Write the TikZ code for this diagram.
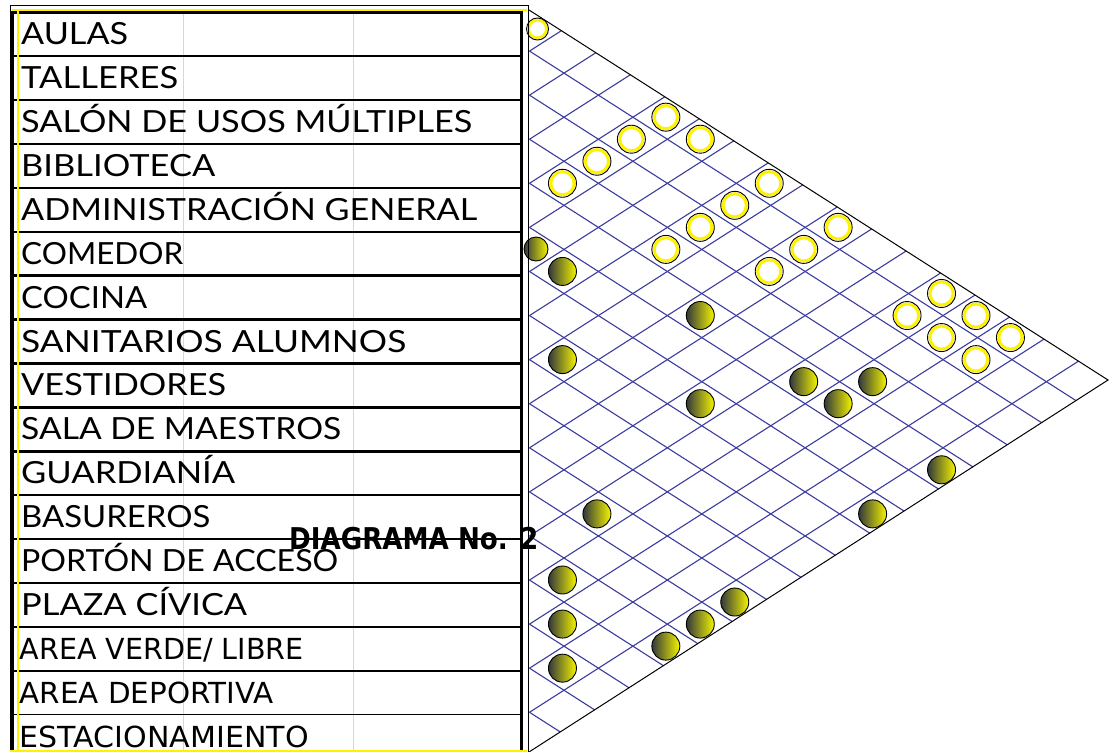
\documentclass[tikz,border=0pt]{standalone}
\usepackage{fontspec}
\usepackage{graphicx}
\setmainfont{Lato}
\newfontfamily\tahomafont{DejaVu Sans}
\newcommand\fitw[2]{\resizebox{#1pt}{\height}{#2}}
\definecolor{gridblue}{RGB}{60,60,160}
\definecolor{balldark}{RGB}{50,56,60}
\definecolor{ballyellow}{RGB}{245,245,0}
\definecolor{sheetgray}{RGB}{215,215,215}
\tikzset{
  lbl/.style={anchor=base west, inner sep=0pt, font=\fontsize{30.5}{30}\selectfont},
  lblb/.style={anchor=base west, inner sep=0pt, font=\tahomafont\fontsize{29}{29}\selectfont},
  rowline/.style={black, line width=2.5pt},
  rowthin/.style={black, line width=1.4pt},
  gridline/.style={gridblue, line width=1.1pt},
  edgeline/.style={black, line width=1pt},
  hollowball/.style={circle, inner sep=0pt, minimum size=28pt, fill=white, draw=black, line width=0.9pt,
    path picture={\draw[yellow, line width=3pt] (path picture bounding box.center) circle (11.6pt);}},
  fullball/.style={circle, inner sep=0pt, minimum size=28pt, draw=black, line width=0.9pt,
    left color=balldark, right color=ballyellow},
}
\begin{document}
\begin{tikzpicture}[x=1pt,y=-1pt]
\useasboundingbox (0,0) rectangle (1114,752);
\fill[white] (0,0) rectangle (1114,752);
% spreadsheet gridlines
\draw[sheetgray, line width=0.9pt] (183,12) -- (183,751);
\draw[sheetgray, line width=0.9pt] (353,12) -- (353,751);
% row separators
\foreach \k in {0,...,11,13,15}{
  \draw[rowline] (12.5,{12.3+43.9*\k}) -- (521.5,{12.3+43.9*\k});
}
\foreach \k in {12,14,16}{
  \draw[rowthin] (12.5,{12.3+43.9*\k}) -- (521.5,{12.3+43.9*\k});
}
% labels
\node[lbl] (r0)  at (21,44.75)  {\fitw{107}{AULAS}};
\node[lbl] (r1)  at (21,88.65)  {\fitw{157}{TALLERES}};
\node[lbl] (r2)  at (21,132.55) {\fitw{451}{SALÓN DE USOS MÚLTIPLES}};
\node[lbl] (r3)  at (21,176.45) {\fitw{194}{BIBLIOTECA}};
\node[lbl] (r4)  at (21,220.35) {\fitw{456}{ADMINISTRACIÓN GENERAL}};
\node[lbl] (r5)  at (21,264.25) {\fitw{162}{COMEDOR}};
\node[lbl] (r6)  at (21,308.15) {\fitw{126}{COCINA}};
\node[lbl] (r7)  at (21,352.05) {\fitw{385}{SANITARIOS ALUMNOS}};
\node[lbl] (r8)  at (21,395.95) {\fitw{205}{VESTIDORES}};
\node[lbl] (r9)  at (21,439.85) {\fitw{320}{SALA DE MAESTROS}};
\node[lbl] (r10) at (21,483.75) {\fitw{214}{GUARDIANÍA}};
\node[lbl] (r11) at (21,527.65) {\fitw{189}{BASUREROS}};
\node[lbl] (r12) at (21,571.55) {\fitw{317}{PORTÓN DE ACCESO}};
\node[lbl] (r13) at (21,615.45) {\fitw{226}{PLAZA CÍVICA}};
\node[lblb] (r14) at (19.5,659.35) {\fitw{284}{AREA VERDE/ LIBRE}};
\node[lblb] (r15) at (19.5,703.25) {\fitw{254}{AREA DEPORTIVA}};
\node[lblb] (r16) at (19.5,747.15) {\fitw{289}{ESTACIONAMIENTO}};
% triangle grid
\begin{scope}
  \clip (529,10) -- (1108,380) -- (529,752) -- cycle;
  \foreach \k in {1,...,16}{
    \draw[gridline] (529.5,{7+44.08*\k}) -- ++(600,383.76);
    \draw[gridline] (529.5,{7+44.08*\k}) -- ++(600,-383.76);
  }
\end{scope}
\draw[edgeline] (529,10) -- (1108,380) -- (529,752);
% edge balls
\node[hollowball, minimum size=22pt, path picture={\draw[yellow, line width=2.6pt] (path picture bounding box.center) circle (8.8pt);}] (y-0-0) at (537.5,29) {};
\node[fullball, minimum size=24pt] (d-5-5) at (536,249) {};
% hollow balls
\foreach \i/\j in {0/4,1/4,0/5,2/4,3/4,0/7,1/7,2/7,0/9,3/7,1/9,2/9,0/12,1/12,0/13,1/13,0/14,1/14}{
  \node[hollowball] (y-\i-\j) at ({528+34.46*(\j-\i)},{29+22.04*(\i+\j)}) {};
}
% full balls
\foreach \i/\j in {5/6,4/9,7/8,4/12,3/13,4/13,6/11,4/16,10/12,6/16,12/13,10/16,13/14,11/16,12/16,14/15}{
  \node[fullball] (d-\i-\j) at ({528+34.46*(\j-\i)},{29+22.04*(\i+\j)}) {};
}
% table frame
\draw[black, line width=0.9pt] (10,5.7) -- (528.7,5.7);
\draw[black, line width=0.9pt] (10,5.7) -- (10,752);
\draw[black, line width=0.9pt] (528.7,5.7) -- (528.7,752);
\draw[black, line width=2.5pt] (12.5,11) -- (12.5,752);
\draw[black, line width=2.5pt] (521.5,11) -- (521.5,752);
\draw[yellow, line width=1.6pt] (12,10.2) -- (527,10.2);
\draw[yellow, line width=1.6pt] (17.8,11) -- (17.8,751);
\draw[yellow, line width=1.8pt] (10,750.8) -- (527,750.8);
% title
\node[anchor=base west, inner sep=0pt, font=\tahomafont\bfseries\fontsize{30}{30}\selectfont] (title) at (289,549) {\fitw{249}{DIAGRAMA No. 2}};
\end{tikzpicture}
\end{document}
